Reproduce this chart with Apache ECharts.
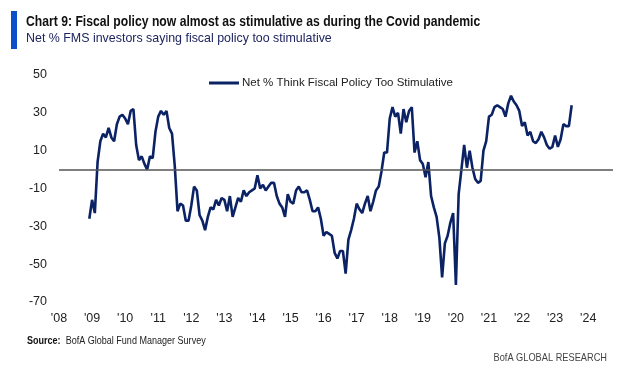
<!DOCTYPE html>
<html>
<head>
<meta charset="utf-8">
<script src="https://cdn.jsdelivr.net/npm/echarts@6/dist/echarts.min.js"></script>
<style>
html,body{margin:0;padding:0;background:#fff;}
#c{width:622px;height:367px;}
</style>
</head>
<body>
<div id="c"></div>
<script>
// Axis categories: monthly, Jan 2008 .. Oct 2024
var startYear = 2008, endYear = 2024, endMonth = 10;
var categories = [];
for (var y = startYear; y <= endYear; y++) {
  for (var m = 1; m <= 12; m++) {
    if (y === endYear && m > endMonth) break;
    categories.push(y + '-' + (m < 10 ? '0' + m : m));
  }
}
// Series: Net % think fiscal policy too stimulative, monthly from Dec 2008
var seriesStart = '2008-12';
var netStimulative = [
  -26, -16, -23, 4, 15, 19, 17, 22, 17, 15,
  24, 28, 29, 27, 24, 31, 32, 13, 5, 7,
  3, 0, 7, 6, 20, 28, 31, 29, 31, 22,
  19, 2, -22, -18, -19, -27, -27, -19, -9, -11,
  -24, -27, -32, -25, -20, -21, -16, -19, -15, -16,
  -22, -14, -25, -20, -15, -17, -11, -14, -12, -11,
  -10, -3, -10, -8, -11, -9, -7, -7, -14, -18,
  -20, -25, -13, -17, -18, -11, -9, -12, -12, -11,
  -16, -22, -22, -20, -26, -35, -33, -34, -35, -44,
  -47, -43, -43, -55, -37, -32, -26, -18, -21, -23,
  -18, -14, -22, -17, -11, -9, -1, 9, 9, 27,
  33, 28, 30, 19, 32, 25, 31, 33, 9, 15,
  5, 3, -4, 4, -14, -20, -25, -36, -57, -39,
  -35, -28, -23, -61, -13, 0, 13, 1, 10, 1,
  -5, -7, -6, 10, 15, 28, 29, 33, 34, 33,
  32, 28, 35, 39, 36, 34, 31, 23, 25, 18,
  20, 15, 14, 16, 20, 17, 13, 11, 12, 18,
  12, 16, 24, 23, 23, 34
];
var yTicks = [-70, -50, -30, -10, 10, 30, 50];

var startIdx = categories.indexOf(seriesStart);
var seriesData = categories.map(function (c, i) {
  var k = i - startIdx;
  return (k >= 0 && k < netStimulative.length) ? netStimulative[k] : null;
});

var FONT = '"Liberation Sans Narrow", "Liberation Sans", Arial, sans-serif';
function txt(x, y, text, font, fill, sx) {
  return {type: 'text', x: x, y: y, scaleX: sx, originX: 0, originY: 0,
    style: {text: text, font: font, fill: fill, verticalAlign: 'top'}};
}
var chart = echarts.init(document.getElementById('c'), null, {renderer: 'canvas'});
chart.setOption({
  animation: false,
  backgroundColor: '#ffffff',
  grid: {left: 59, right: 9, top: 75, bottom: 65, containLabel: false},
  legend: {
    show: true,
    left: 204, top: 72,
    icon: 'path://M0,0 L30,0 L30,3 L0,3 Z',
    itemWidth: 32, itemHeight: 3, itemGap: 4,
    textStyle: {fontFamily: FONT, fontSize: 11.5, color: '#222', padding: [0, 0, 0, -3]},
    data: ['Net % Think Fiscal Policy Too Stimulative']
  },
  xAxis: {
    type: 'category',
    data: categories,
    boundaryGap: false,
    axisLine: {show: false},
    axisTick: {show: false},
    splitLine: {show: false},
    axisLabel: {
      interval: function (idx, val) { return val.slice(5) === '01'; },
      formatter: function (val) { return "'" + val.slice(2, 4); },
      fontFamily: FONT, fontSize: 12.5, color: '#222', margin: 10
    }
  },
  yAxis: {
    type: 'value',
    min: yTicks[0], max: yTicks[yTicks.length - 1], interval: 20,
    axisLine: {show: false},
    axisTick: {show: false},
    splitLine: {show: false},
    axisLabel: {fontFamily: FONT, fontSize: 12.5, color: '#222', margin: 12}
  },
  series: [{
    name: 'Net % Think Fiscal Policy Too Stimulative',
    type: 'line',
    data: seriesData,
    symbol: 'none',
    connectNulls: false,
    lineStyle: {color: '#0B2265', width: 2.6},
    itemStyle: {color: '#0B2265'},
    markLine: {
      silent: true,
      symbol: ['none', 'none'],
      label: {show: false},
      lineStyle: {color: '#555555', width: 1.6, type: 'solid'},
      data: [{yAxis: 0}]
    },
    z: 3
  }],
  graphic: [
    {type: 'rect', shape: {x: 11, y: 11, width: 6, height: 38}, style: {fill: '#0B50C8'}},
    txt(26, 14, 'Chart 9: Fiscal policy now almost as stimulative as during the Covid pandemic', 'bold 14.5px ' + FONT, '#111', 0.84),
    txt(26, 31, 'Net % FMS investors saying fiscal policy too stimulative', '13.5px ' + FONT, '#1E2460', 0.92),
    {type: 'text', x: 27, y: 336, scaleX: 0.86, originX: 0, originY: 0,
      style: {rich: {b: {font: 'bold 10.5px ' + FONT, fill: '#111'}, n: {font: '10.5px ' + FONT, fill: '#222'}},
        text: '{b|Source:}{n|  BofA Global Fund Manager Survey}', verticalAlign: 'top'}},
    {type: 'text', x: 607, y: 353, scaleX: 0.88, originX: 0, originY: 0,
      style: {text: 'BofA GLOBAL RESEARCH', font: '10.5px ' + FONT, fill: '#444', align: 'right', verticalAlign: 'top'}}
  ]
});
</script>
</body>
</html>
